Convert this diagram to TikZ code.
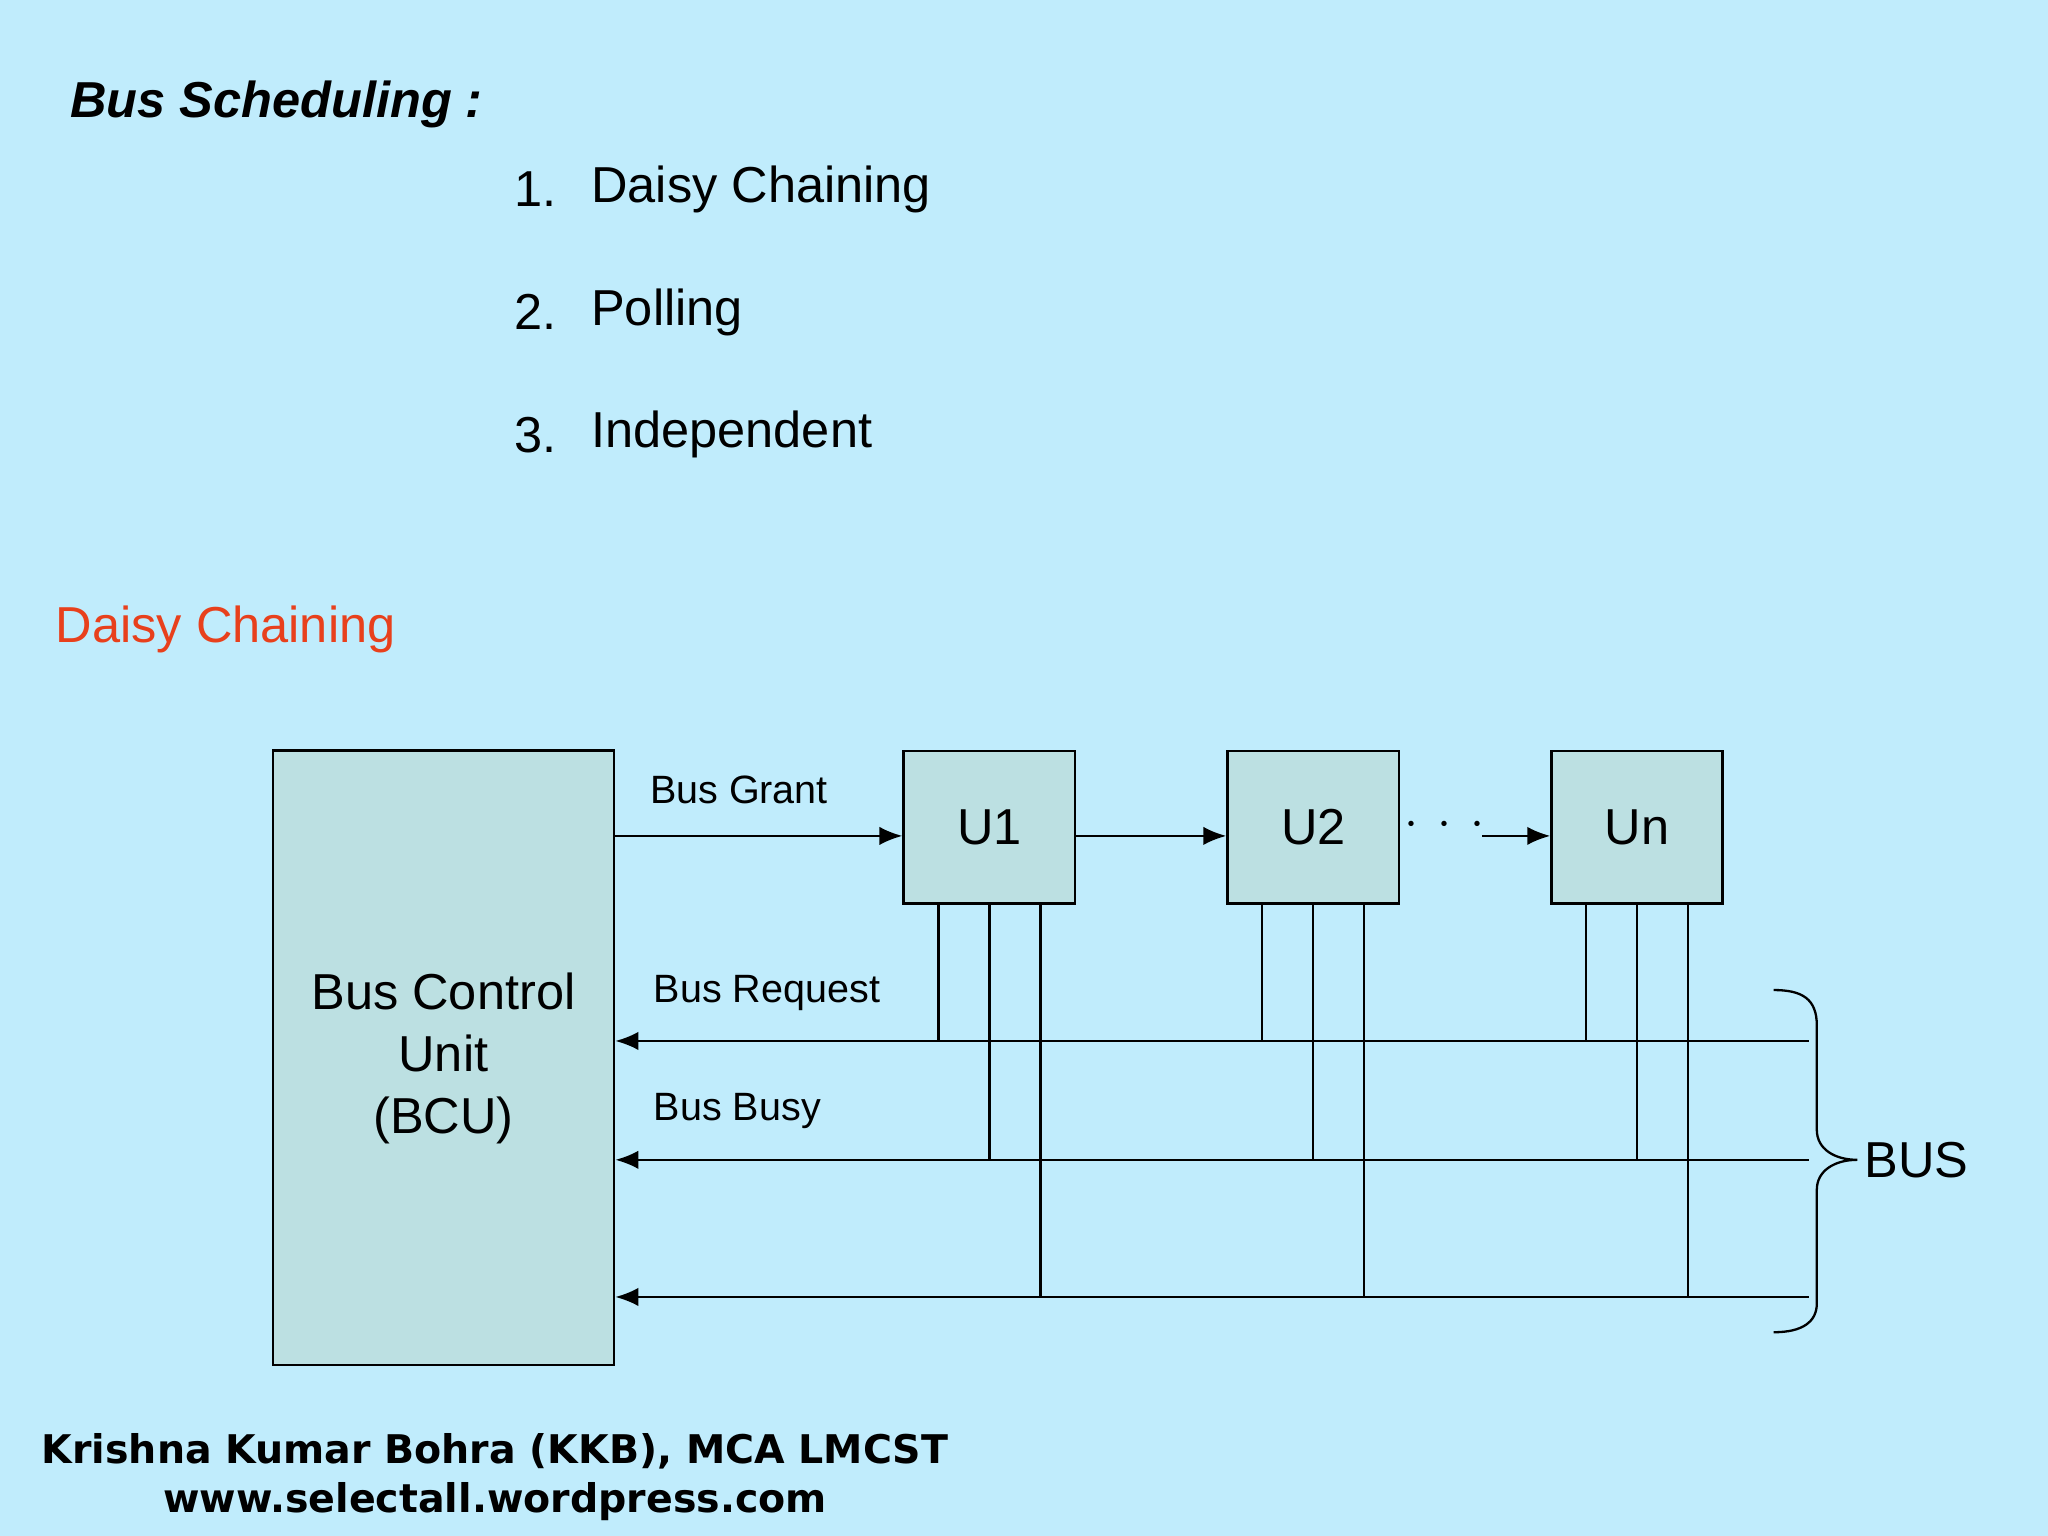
\documentclass[tikz,border=0pt]{standalone}
\usepackage{fontspec}
\setmainfont{Liberation Sans}
\newfontfamily\footfont{DejaVu Sans}
\usetikzlibrary{arrows.meta}
\definecolor{bg}{RGB}{192,236,252}
\definecolor{boxc}{RGB}{188,224,226}
\definecolor{redc}{RGB}{232,64,28}
\begin{document}
\begin{tikzpicture}[x=0.01cm,y=-0.01cm,
  box/.style={draw=black,fill=boxc,line width=0.6pt,inner sep=0pt},
  ubox/.style={box,minimum width=1.31cm,minimum height=1.17cm,big},
  big/.style={font=\fontsize{11}{13.5}\selectfont},
  small/.style={font=\fontsize{8.6}{10}\selectfont},
  tx/.style={anchor=west,inner xsep=0pt},
  arr/.style={-{Latex[length=5pt,width=4pt]},line width=0.5pt},
  ln/.style={line width=0.5pt}]
\fill[bg] (0,0) rectangle (1568,1176);
\useasboundingbox (0,0) rectangle (1568,1176);
\node[tx,font=\fontsize{11}{13}\selectfont\bfseries\itshape] (title) at (53,80) {Bus Scheduling :};
\node[tx,big] (n1) at (393,145) {1.};
\node[tx,big] (l1) at (452,145) {Daisy Chaining};
\node[tx,big] (n2) at (393,239) {2.};
\node[tx,big] (l2) at (452,239) {Polling};
\node[tx,big] (n3) at (393,333) {3.};
\node[tx,big] (l3) at (452,333) {Independent};
\node[tx,big,text=redc] (dc) at (42,482) {Daisy Chaining};
\node[box,minimum width=2.61cm,minimum height=4.70cm,align=center,big] (bcu) at (339.5,810) {Bus Control\\Unit\\(BCU)};
\node[ubox] (u1) at (757.5,633.5) {U1};
\node[ubox] (u2) at (1005.5,633.5) {U2};
\node[ubox] (un) at (1253.5,633.5) {Un};
\coordinate (g0) at (470,640);
\draw[arr] (g0) -- (u1.west |- g0);
\draw[arr] (u1.east |- g0) -- (u2.west |- g0);
\node[big] (dots) at (1106,632) {$\cdot\,\cdot\,\cdot$};
\coordinate (g1) at (1135,640);
\draw[arr] (g1) -- (un.west |- g0);
\node[tx,small] (lg) at (497,605) {Bus Grant};
\node[tx,small] (lr) at (500,760) {Bus Request};
\node[tx,small] (lb) at (500,851) {Bus Busy};
\coordinate (r) at (1385,797);
\coordinate (b) at (1385,888);
\coordinate (t) at (1385,993);
\draw[arr] (r) -- (bcu.east |- r);
\draw[arr] (b) -- (bcu.east |- b);
\draw[arr] (t) -- (bcu.east |- t);
\foreach \u in {u1,u2,un}{
  \draw[ln] ([xshift=-0.39cm]\u.south) -- ([xshift=-0.39cm]\u.south |- r);
  \draw[ln] (\u.south) -- (\u.south |- b);
  \draw[ln] ([xshift=0.39cm]\u.south) -- ([xshift=0.39cm]\u.south |- t);
}
\coordinate (tip) at (1422,888);
\draw[ln] (1358,758) .. controls (1380,758) and (1391,765) .. (1391,785) -- (1391,865)
  .. controls (1391,880) and (1405,888) .. (tip)
  .. controls (1405,888) and (1391,896) .. (1391,911) -- (1391,998)
  .. controls (1391,1012) and (1380,1020) .. (1358,1020);
\node[tx,big] (bus) at (1427,888) {BUS};
\node[align=center,font=\footfont\fontsize{8.6}{10.6}\selectfont\bfseries] (foot) at (379,1131) {Krishna Kumar Bohra (KKB), MCA LMCST\\www.selectall.wordpress.com};
\end{tikzpicture}
\end{document}
